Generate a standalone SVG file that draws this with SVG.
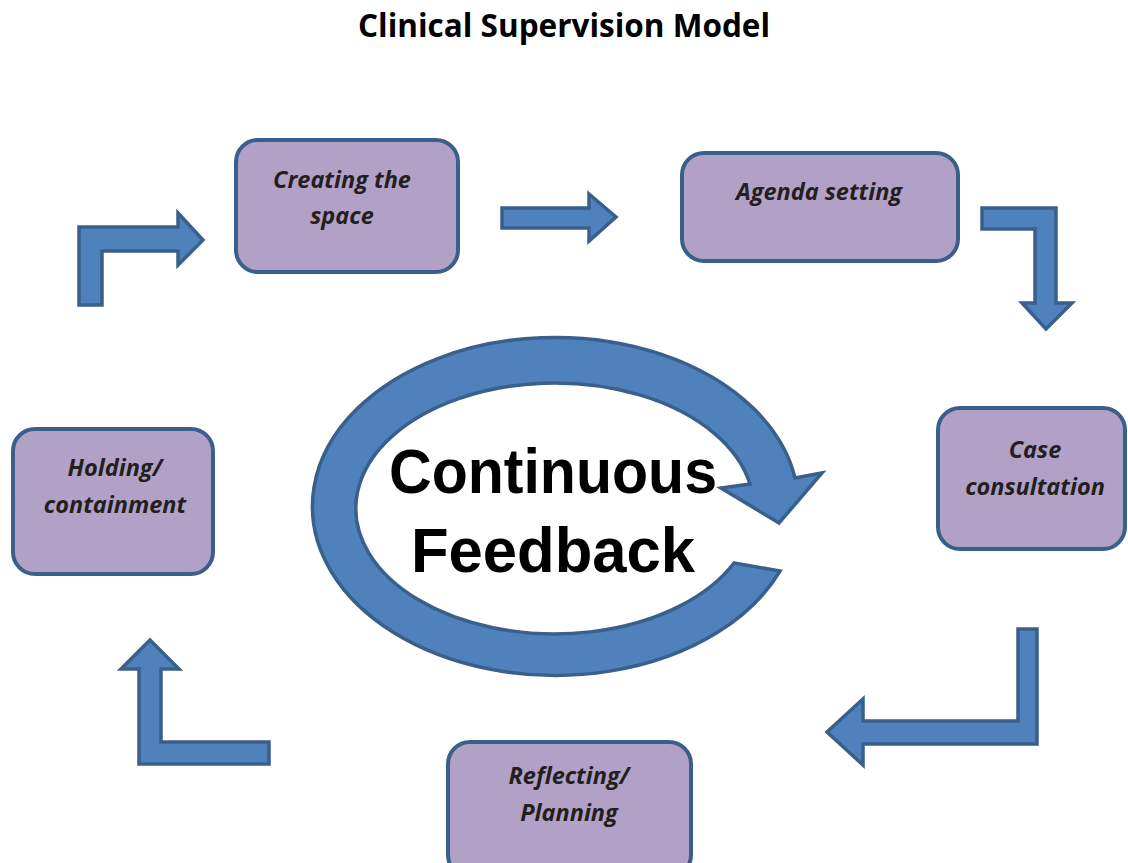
<svg xmlns="http://www.w3.org/2000/svg" width="1128" height="863" viewBox="0 0 1128 863">
<style>
.box{fill:#B2A1C7;stroke:#3A5F8B;stroke-width:4}
.arr{fill:#4F81BD;stroke:#3A5F8B;stroke-width:3.5;stroke-linejoin:miter}
.lbl{font-family:"Open Sans",Lato,sans-serif;font-weight:700;font-style:italic;font-size:23.5px;fill:#231F20;text-anchor:middle}
.title{font-family:"Open Sans",Lato,sans-serif;font-weight:700;font-size:31.5px;fill:#000;text-anchor:middle}
.big{font-family:"Liberation Sans",Arial,sans-serif;font-weight:700;font-size:63px;fill:#000;text-anchor:middle}
</style>
<rect width="1128" height="863" fill="#fff"/>
<text class="title" x="564" y="37">Clinical Supervision Model</text>
<g id="connectors">
<polygon class="arr" points="79,305 79,227 178,227 178,213 203,240 178,265 178,251 102,251 102,305"/>
<polygon class="arr" points="502,208 589,208 589,194 616,217 589,241 589,228 502,228"/>
<polygon class="arr" points="982,208 1056,208 1056,303 1072,303 1046,329 1022,303 1035,303 1035,229 982,229"/>
<polygon class="arr" points="1037,629 1037,744 863,744 863,765 827,732 863,699 863,721 1018,721 1018,629"/>
<polygon class="arr" points="139,764 139,669 121,669 150,640 179,669 161,669 161,742 269,742 269,764"/>
</g>
<g id="feedback">
<path class="arr" d="M734,563 L780,571 A243,169 0 1 1 795,478 L822,473 L779,523 L721,488 L750,484 A199,125.5 0 1 0 734,563 Z"/>
<text class="big" x="553" y="493" textLength="328" lengthAdjust="spacingAndGlyphs">Continuous</text>
<text class="big" x="553" y="572" textLength="284" lengthAdjust="spacingAndGlyphs">Feedback</text>
</g>
<g id="creating">
<rect class="box" x="236" y="140" width="222" height="132" rx="22"/>
<text class="lbl" x="342" y="188">Creating the</text>
<text class="lbl" x="342" y="224">space</text>
</g>
<g id="agenda">
<rect class="box" x="682" y="153" width="276" height="108" rx="22"/>
<text class="lbl" x="819" y="200">Agenda setting</text>
</g>
<g id="case">
<rect class="box" x="938" y="408" width="187" height="141" rx="22"/>
<text class="lbl" x="1035" y="458">Case</text>
<text class="lbl" x="1035" y="495">consultation</text>
</g>
<g id="reflecting">
<rect class="box" x="448" y="742" width="243" height="135" rx="22"/>
<text class="lbl" x="569" y="784">Reflecting/</text>
<text class="lbl" x="569" y="821">Planning</text>
</g>
<g id="holding">
<rect class="box" x="13" y="429" width="200" height="145" rx="22"/>
<text class="lbl" x="115" y="476">Holding/</text>
<text class="lbl" x="115" y="513">containment</text>
</g>
</svg>
